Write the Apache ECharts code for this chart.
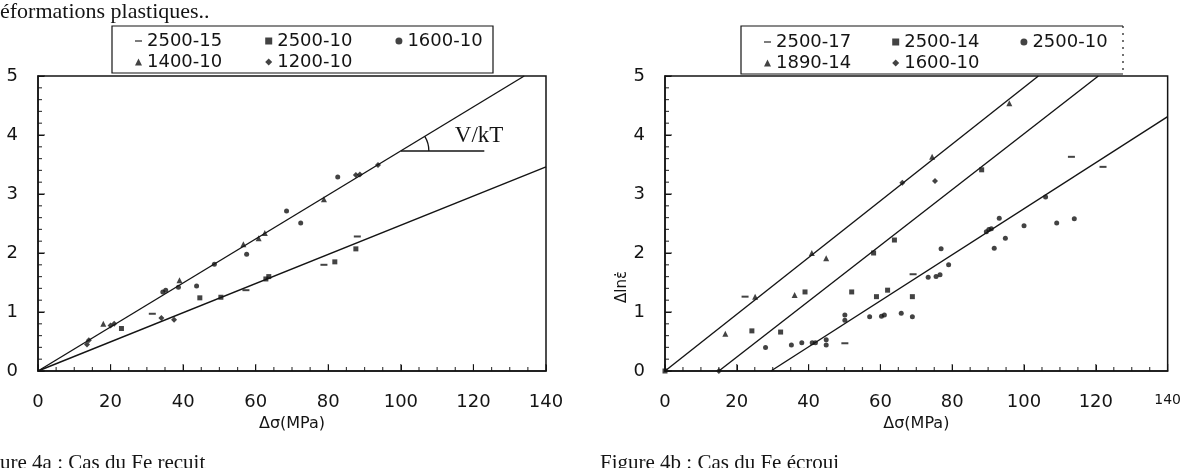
<!DOCTYPE html>
<html><head><meta charset="utf-8">
<script src="https://cdn.jsdelivr.net/npm/echarts@6/dist/echarts.min.js"></script>
<style>html,body{margin:0;padding:0;background:#fff}#c{width:1184px;height:468px}</style>
</head><body><div id="c"></div>
<script>
// ---------- axis ticks ----------
const xTicks = [0, 20, 40, 60, 80, 100, 120, 140];
const yTicks = [0, 1, 2, 3, 4, 5];
const xMinorTicks = [5,10,15,25,30,35,45,50,55,65,70,75,85,90,95,105,110,115,125,130,135];
const yMinorTicks = [0.2,0.4,0.6,0.8,1.2,1.4,1.6,1.8,2.2,2.4,2.6,2.8,3.2,3.4,3.6,3.8,4.2,4.4,4.6,4.8];

// ---------- Figure 4a : Fe recuit ----------
const a2500_15 = [[31.5,0.97],[57.3,1.37],[78.8,1.80],[88.0,2.28]];
const a2500_10 = [[23.0,0.72],[44.6,1.24],[50.4,1.25],[62.8,1.56],[63.6,1.60],[81.8,1.85],[87.6,2.07]];
const a1600_10 = [[34.4,1.34],[35.2,1.37],[38.7,1.42],[43.7,1.44],[48.6,1.81],[57.5,1.98],[68.5,2.71],[72.4,2.51],[82.6,3.29]];
const a1400_10 = [[18.0,0.80],[39.0,1.54],[56.6,2.15],[60.8,2.25],[62.5,2.34],[78.8,2.91]];
const a1200_10 = [[13.5,0.45],[14.0,0.52],[20.0,0.77],[21.0,0.80],[34.0,0.90],[37.5,0.87],[87.6,3.32],[88.7,3.33],[93.7,3.49]];
const aFitUpper = [[0,0],[134,5]];
const aFitLower = [[0,0],[140,3.46]];
const vkTick = [[100,3.73],[123,3.73]];

// ---------- Figure 4b : Fe écroui ----------
const b2500_17 = [[22.3,1.26],[50.1,0.47],[69.1,1.64],[113.2,3.63],[122.0,3.46]];
const b2500_14 = [[0,0],[24.2,0.68],[32.2,0.66],[39.0,1.34],[52.0,1.34],[58.1,2.00],[58.9,1.26],[62.0,1.37],[63.9,2.22],[68.9,1.26],[88.2,3.41]];
const b2500_10 = [[28.0,0.40],[35.2,0.44],[38.1,0.48],[41.0,0.48],[41.9,0.48],[44.9,0.44],[44.9,0.53],[50.1,0.86],[50.1,0.95],[57.0,0.92],[60.3,0.93],[61.1,0.95],[65.8,0.98],[68.9,0.92],[73.3,1.59],[75.5,1.60],[76.6,1.63],[76.9,2.07],[79.0,1.80],[89.5,2.36],[90.2,2.40],[90.9,2.41],[91.7,2.08],[93.1,2.59],[94.8,2.25],[100.0,2.46],[106.0,2.95],[109.1,2.51],[114.0,2.58]];
const b1890_14 = [[16.8,0.63],[25.1,1.26],[36.1,1.29],[40.9,2.00],[44.9,1.91],[74.4,3.63],[95.9,4.54]];
const b1600_10 = [[15.0,0.0],[66.1,3.19],[75.2,3.22]];
const bFit1 = [[0,0],[104,5]];
const bFit2 = [[15,0],[120.7,5]];
const bFit3 = [[29.5,0],[140,4.31]];

const FONT = 'DejaVu Sans';
const SERIF = '"Liberation Serif", "Times New Roman", serif';
const INK = '#141414';
const DASH = 'path://M0,0M0,4h10v2h-10zM10,10';

const chart = echarts.init(document.getElementById('c'));

function xAxisCfg(i) {
  return {
    type: 'value', gridIndex: i, min: xTicks[0], max: xTicks[xTicks.length - 1], interval: 20,
    axisLine: {show: true, lineStyle: {color: INK, width: 1.5}},
    axisTick: {show: true, inside: true, length: 6, lineStyle: {color: INK, width: 1}},
    splitLine: {show: false},
    axisLabel: {
      margin: 22, color: INK, fontFamily: FONT, fontSize: 18,
      formatter: v => (i === 1 && v === 140) ? '{s|140}' : String(v),
      rich: {s: {fontSize: 14, fontFamily: FONT, color: INK}}
    },
    name: 'Δσ(MPa)', nameLocation: 'middle', nameGap: 43,
    nameTextStyle: {color: INK, fontFamily: FONT, fontSize: 16}
  };
}
function yAxisCfg(i) {
  return {
    type: 'value', gridIndex: i, min: yTicks[0], max: yTicks[yTicks.length - 1], interval: 1,
    axisLine: {show: true, lineStyle: {color: INK, width: 1.5}},
    axisTick: {show: true, inside: true, length: 6, lineStyle: {color: INK, width: 1}},
    splitLine: {show: false},
    axisLabel: {margin: 20, color: INK, fontFamily: FONT, fontSize: 18}
  };
}
function scatter(name, data, i, symbol, size) {
  return {type: 'scatter', name, data, xAxisIndex: i, yAxisIndex: i, symbol, symbolSize: size,
    itemStyle: {color: INK}, silent: true, z: 3};
}
function fit(data, i) {
  return {type: 'line', data, xAxisIndex: i, yAxisIndex: i, showSymbol: false, symbol: 'none',
    lineStyle: {color: INK, width: 1.4}, silent: true, z: 2};
}
// inward tick marks drawn as thin rect symbols sitting on the axis (placed by the axis scale)
function tickMarks(i, dir, values, len) {
  return {
    type: 'scatter', xAxisIndex: i, yAxisIndex: i, silent: true, z: 6, clip: false,
    data: values.map(v => dir === 'x' ? [v, yTicks[0]] : [xTicks[0], v]),
    symbol: 'rect',
    symbolSize: dir === 'x' ? [1.2, len] : [len, 1.2],
    symbolOffset: dir === 'x' ? [0, -len / 2] : [len / 2, 0],
    itemStyle: {color: INK}, emphasis: {disabled: true}
  };
}
function legendRow(left, top, gap, items) {
  return {left, top, itemGap: gap, itemWidth: 7, itemHeight: 7, padding: 0, selectedMode: false,
    textStyle: {fontFamily: FONT, fontSize: 18, color: INK, lineHeight: 20}, data: items};
}

const option = {
  animation: false,
  backgroundColor: '#fff',
  grid: [
    {left: 38, top: 76, width: 508, height: 295, show: true, borderColor: INK, borderWidth: 1.5},
    {left: 665, top: 76, width: 507, height: 295, show: true, borderColor: INK, borderWidth: 1.5}
  ],
  xAxis: [xAxisCfg(0), xAxisCfg(1)],
  yAxis: [yAxisCfg(0), yAxisCfg(1)],
  legend: [
    legendRow(135, 31, 43, [{name: '2500-15', icon: DASH}, {name: '2500-10', icon: 'rect'}, {name: '1600-10', icon: 'circle'}]),
    legendRow(135, 52, 43, [{name: '1400-10', icon: 'triangle'}, {name: '1200-10', icon: 'diamond'}]),
    legendRow(764, 32, 41, [{name: '2500-17', icon: DASH}, {name: '2500-14', icon: 'rect'}, {name: '2500-10', icon: 'circle'}]),
    legendRow(764, 53, 41, [{name: '1890-14', icon: 'triangle'}, {name: '1600-10', icon: 'diamond'}])
  ],
  series: [
    tickMarks(0, 'x', xTicks, 7), tickMarks(0, 'x', xMinorTicks, 4),
    tickMarks(0, 'y', yTicks, 7), tickMarks(0, 'y', yMinorTicks, 4),
    tickMarks(1, 'x', xTicks, 7), tickMarks(1, 'x', xMinorTicks, 4),
    tickMarks(1, 'y', yTicks, 7), tickMarks(1, 'y', yMinorTicks, 4),
    fit(aFitUpper, 0), fit(aFitLower, 0), fit(vkTick, 0),
    {
      // angle arc + "V/kT" label, positioned through the axis scale
      type: 'custom', xAxisIndex: 0, yAxisIndex: 0, silent: true, z: 4,
      data: [vkTick[0].concat(aFitUpper[1])],
      renderItem: function (params, api) {
        const c = api.coord([api.value(0), api.value(1)]);
        const e = api.coord([api.value(2), api.value(3)]);
        const ang = Math.atan2(e[1] - c[1], e[0] - c[0]);
        return {
          type: 'group',
          children: [
            {type: 'arc', shape: {cx: c[0], cy: c[1], r: 28, startAngle: ang, endAngle: 0, clockwise: true},
             style: {fill: 'none', stroke: INK, lineWidth: 1.3}},
            {type: 'text', x: c[0] + 54, y: c[1] - 15,
             style: {text: 'V/kT', font: '23px ' + SERIF, fill: INK, verticalAlign: 'middle'}}
          ]
        };
      }
    },
    scatter('2500-15', a2500_15, 0, 'rect', [7, 2]),
    scatter('2500-10', a2500_10, 0, 'rect', 5),
    scatter('1600-10', a1600_10, 0, 'circle', 5),
    scatter('1400-10', a1400_10, 0, 'triangle', 6),
    scatter('1200-10', a1200_10, 0, 'diamond', 6),
    fit(bFit1, 1), fit(bFit2, 1), fit(bFit3, 1),
    scatter('2500-17', b2500_17, 1, 'rect', [7, 2]),
    scatter('2500-14', b2500_14, 1, 'rect', 5),
    scatter('2500-10', b2500_10, 1, 'circle', 5),
    scatter('1890-14', b1890_14, 1, 'triangle', 6),
    scatter('1600-10', b1600_10, 1, 'diamond', 6)
  ],
  graphic: [
    {type: 'rect', shape: {x: 112, y: 26, width: 381, height: 47}, style: {fill: 'none', stroke: INK, lineWidth: 1.2}, silent: true},
    {type: 'polyline', shape: {points: [[1123, 26], [741, 26], [741, 74], [1123, 74]]}, style: {fill: 'none', stroke: INK, lineWidth: 1.2}, silent: true},
    {type: 'line', shape: {x1: 1123, y1: 26, x2: 1123, y2: 74}, style: {stroke: INK, lineWidth: 1.2, lineDash: [2, 5]}, silent: true},
    {type: 'text', x: 0, y: 12, style: {text: 'éformations plastiques..', font: '22px ' + SERIF, fill: INK, verticalAlign: 'middle'}, silent: true},
    {type: 'text', x: -28, y: 453, style: {text: 'Figure 4a : Cas du Fe recuit', font: '21px ' + SERIF, fill: INK, verticalAlign: 'top'}, silent: true},
    {type: 'text', x: 600, y: 453, style: {text: 'Figure 4b : Cas du Fe écroui', font: '21px ' + SERIF, fill: INK, verticalAlign: 'top'}, silent: true},
    {type: 'text', x: 622, y: 287, rotation: Math.PI / 2, style: {text: 'Δlnε\u0307', font: '15px ' + FONT, fill: INK, align: 'center', verticalAlign: 'middle'}, silent: true}
  ]
};
chart.setOption(option);
</script>
</body></html>
